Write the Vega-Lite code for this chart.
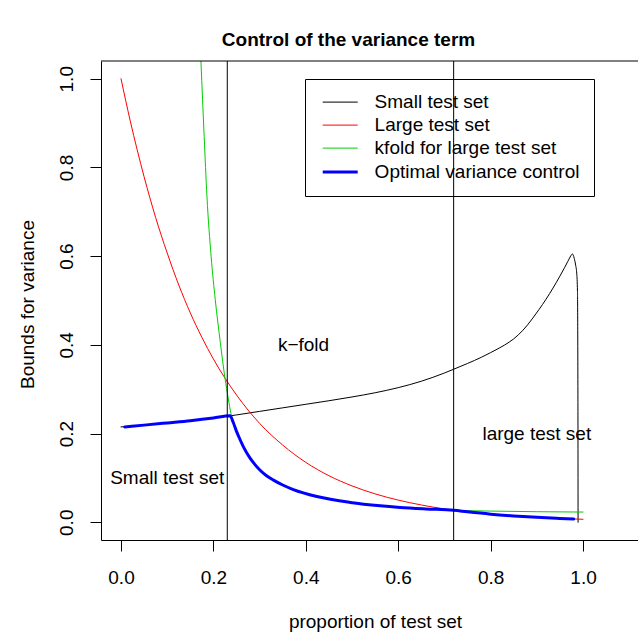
{
  "$schema": "https://vega.github.io/schema/vega-lite/v6.json",
  "width": 537,
  "height": 479,
  "autosize": "none",
  "padding": {"left": 101, "top": 61, "right": 0, "bottom": 93},
  "background": "white",
  "title": {"text": "Control of the variance term", "font": "Liberation Sans", "fontSize": 19, "fontWeight": "bold", "color": "black", "anchor": "middle", "baseline": "alphabetic", "offset": 12, "dx": -21, "dy": 16},
  "config": {
    "view": {"stroke": null},
    "font": "Liberation Sans",
    "axis": {"grid": false, "domainColor": "black", "domainWidth": 1, "tickColor": "black", "tickWidth": 1, "tickSize": 11, "labelColor": "black", "labelFont": "Liberation Sans", "labelFontSize": 19, "titleColor": "black", "titleFont": "Liberation Sans", "titleFontSize": 19, "titleFontWeight": "normal"}
  },
  "datasets": {
    "curves": [
      {"series": "Small test set", "p": 0.0, "v": 0.215},
      {"series": "Small test set", "p": 0.05, "v": 0.219},
      {"series": "Small test set", "p": 0.10, "v": 0.224},
      {"series": "Small test set", "p": 0.15, "v": 0.229},
      {"series": "Small test set", "p": 0.20, "v": 0.235},
      {"series": "Small test set", "p": 0.25, "v": 0.242},
      {"series": "Small test set", "p": 0.30, "v": 0.250},
      {"series": "Small test set", "p": 0.35, "v": 0.258},
      {"series": "Small test set", "p": 0.40, "v": 0.266},
      {"series": "Small test set", "p": 0.45, "v": 0.274},
      {"series": "Small test set", "p": 0.50, "v": 0.2825},
      {"series": "Small test set", "p": 0.55, "v": 0.292},
      {"series": "Small test set", "p": 0.60, "v": 0.3035},
      {"series": "Small test set", "p": 0.65, "v": 0.318},
      {"series": "Small test set", "p": 0.70, "v": 0.3365},
      {"series": "Small test set", "p": 0.72, "v": 0.345},
      {"series": "Small test set", "p": 0.75, "v": 0.358},
      {"series": "Small test set", "p": 0.78, "v": 0.372},
      {"series": "Small test set", "p": 0.80, "v": 0.3825},
      {"series": "Small test set", "p": 0.82, "v": 0.3935},
      {"series": "Small test set", "p": 0.84, "v": 0.406},
      {"series": "Small test set", "p": 0.85, "v": 0.4135},
      {"series": "Small test set", "p": 0.86, "v": 0.4225},
      {"series": "Small test set", "p": 0.87, "v": 0.433},
      {"series": "Small test set", "p": 0.88, "v": 0.445},
      {"series": "Small test set", "p": 0.89, "v": 0.4585},
      {"series": "Small test set", "p": 0.905, "v": 0.480},
      {"series": "Small test set", "p": 0.92, "v": 0.503},
      {"series": "Small test set", "p": 0.935, "v": 0.528},
      {"series": "Small test set", "p": 0.95, "v": 0.555},
      {"series": "Small test set", "p": 0.96, "v": 0.574},
      {"series": "Small test set", "p": 0.967, "v": 0.588},
      {"series": "Small test set", "p": 0.972, "v": 0.598},
      {"series": "Small test set", "p": 0.975, "v": 0.603},
      {"series": "Small test set", "p": 0.977, "v": 0.605},
      {"series": "Small test set", "p": 0.979, "v": 0.602},
      {"series": "Small test set", "p": 0.981, "v": 0.595},
      {"series": "Small test set", "p": 0.984, "v": 0.580},
      {"series": "Small test set", "p": 0.9865, "v": 0.560},
      {"series": "Small test set", "p": 0.988, "v": 0.520},
      {"series": "Small test set", "p": 0.9885, "v": 0.450},
      {"series": "Small test set", "p": 0.989, "v": 0.250},
      {"series": "Small test set", "p": 0.9893, "v": 0.0},
      {"series": "Large test set", "p": 0.0, "v": 1.0},
      {"series": "Large test set", "p": 0.02, "v": 0.905},
      {"series": "Large test set", "p": 0.05, "v": 0.779},
      {"series": "Large test set", "p": 0.075, "v": 0.687},
      {"series": "Large test set", "p": 0.10, "v": 0.607},
      {"series": "Large test set", "p": 0.125, "v": 0.535},
      {"series": "Large test set", "p": 0.15, "v": 0.472},
      {"series": "Large test set", "p": 0.175, "v": 0.417},
      {"series": "Large test set", "p": 0.20, "v": 0.368},
      {"series": "Large test set", "p": 0.25, "v": 0.287},
      {"series": "Large test set", "p": 0.30, "v": 0.223},
      {"series": "Large test set", "p": 0.35, "v": 0.174},
      {"series": "Large test set", "p": 0.40, "v": 0.135},
      {"series": "Large test set", "p": 0.45, "v": 0.105},
      {"series": "Large test set", "p": 0.50, "v": 0.082},
      {"series": "Large test set", "p": 0.55, "v": 0.064},
      {"series": "Large test set", "p": 0.60, "v": 0.050},
      {"series": "Large test set", "p": 0.65, "v": 0.039},
      {"series": "Large test set", "p": 0.70, "v": 0.030},
      {"series": "Large test set", "p": 0.75, "v": 0.0235},
      {"series": "Large test set", "p": 0.80, "v": 0.0183},
      {"series": "Large test set", "p": 0.85, "v": 0.0143},
      {"series": "Large test set", "p": 0.90, "v": 0.0111},
      {"series": "Large test set", "p": 0.95, "v": 0.0087},
      {"series": "Large test set", "p": 1.0, "v": 0.0067},
      {"series": "kfold for large test set", "p": 0.165, "v": 1.25},
      {"series": "kfold for large test set", "p": 0.173, "v": 1.04},
      {"series": "kfold for large test set", "p": 0.18, "v": 0.87},
      {"series": "kfold for large test set", "p": 0.186, "v": 0.735},
      {"series": "kfold for large test set", "p": 0.195, "v": 0.60},
      {"series": "kfold for large test set", "p": 0.204, "v": 0.502},
      {"series": "kfold for large test set", "p": 0.215, "v": 0.405},
      {"series": "kfold for large test set", "p": 0.225, "v": 0.325},
      {"series": "kfold for large test set", "p": 0.232, "v": 0.280},
      {"series": "kfold for large test set", "p": 0.238, "v": 0.245},
      {"series": "kfold for large test set", "p": 0.243, "v": 0.225},
      {"series": "kfold for large test set", "p": 0.25, "v": 0.205},
      {"series": "kfold for large test set", "p": 0.254, "v": 0.195},
      {"series": "kfold for large test set", "p": 0.265, "v": 0.170},
      {"series": "kfold for large test set", "p": 0.279, "v": 0.145},
      {"series": "kfold for large test set", "p": 0.29, "v": 0.130},
      {"series": "kfold for large test set", "p": 0.30, "v": 0.1185},
      {"series": "kfold for large test set", "p": 0.315, "v": 0.105},
      {"series": "kfold for large test set", "p": 0.33, "v": 0.095},
      {"series": "kfold for large test set", "p": 0.35, "v": 0.084},
      {"series": "kfold for large test set", "p": 0.373, "v": 0.0737},
      {"series": "kfold for large test set", "p": 0.424, "v": 0.058},
      {"series": "kfold for large test set", "p": 0.496, "v": 0.0447},
      {"series": "kfold for large test set", "p": 0.561, "v": 0.037},
      {"series": "kfold for large test set", "p": 0.604, "v": 0.0334},
      {"series": "kfold for large test set", "p": 0.66, "v": 0.030},
      {"series": "kfold for large test set", "p": 0.72, "v": 0.0270},
      {"series": "kfold for large test set", "p": 0.80, "v": 0.0252},
      {"series": "kfold for large test set", "p": 0.90, "v": 0.0238},
      {"series": "kfold for large test set", "p": 1.0, "v": 0.0230},
      {"series": "Optimal variance control", "p": 0.008, "v": 0.215},
      {"series": "Optimal variance control", "p": 0.05, "v": 0.219},
      {"series": "Optimal variance control", "p": 0.10, "v": 0.224},
      {"series": "Optimal variance control", "p": 0.15, "v": 0.229},
      {"series": "Optimal variance control", "p": 0.20, "v": 0.235},
      {"series": "Optimal variance control", "p": 0.236, "v": 0.240},
      {"series": "Optimal variance control", "p": 0.243, "v": 0.225},
      {"series": "Optimal variance control", "p": 0.25, "v": 0.205},
      {"series": "Optimal variance control", "p": 0.254, "v": 0.195},
      {"series": "Optimal variance control", "p": 0.265, "v": 0.170},
      {"series": "Optimal variance control", "p": 0.279, "v": 0.145},
      {"series": "Optimal variance control", "p": 0.29, "v": 0.130},
      {"series": "Optimal variance control", "p": 0.30, "v": 0.1185},
      {"series": "Optimal variance control", "p": 0.315, "v": 0.105},
      {"series": "Optimal variance control", "p": 0.33, "v": 0.095},
      {"series": "Optimal variance control", "p": 0.35, "v": 0.084},
      {"series": "Optimal variance control", "p": 0.373, "v": 0.0737},
      {"series": "Optimal variance control", "p": 0.424, "v": 0.058},
      {"series": "Optimal variance control", "p": 0.496, "v": 0.0447},
      {"series": "Optimal variance control", "p": 0.561, "v": 0.037},
      {"series": "Optimal variance control", "p": 0.604, "v": 0.0334},
      {"series": "Optimal variance control", "p": 0.66, "v": 0.030},
      {"series": "Optimal variance control", "p": 0.72, "v": 0.0270},
      {"series": "Optimal variance control", "p": 0.75, "v": 0.0235},
      {"series": "Optimal variance control", "p": 0.80, "v": 0.0183},
      {"series": "Optimal variance control", "p": 0.85, "v": 0.0143},
      {"series": "Optimal variance control", "p": 0.90, "v": 0.0111},
      {"series": "Optimal variance control", "p": 0.95, "v": 0.0087},
      {"series": "Optimal variance control", "p": 0.98, "v": 0.0074}
    ],
    "vlines": [{"p": 0.23}, {"p": 0.72}],
    "notes": [
      {"p": 0.1, "v": 0.1, "label": "Small test set"},
      {"p": 0.395, "v": 0.4, "label": "k−fold"},
      {"p": 0.9, "v": 0.2, "label": "large test set"}
    ]
  },
  "layer": [
    {
      "data": {"name": "curves"},
      "mark": {"type": "line", "interpolate": "monotone", "clip": true, "strokeCap": "round"},
      "encoding": {
        "x": {"field": "p", "type": "quantitative", "scale": {"domain": [-0.0433, 1.119], "nice": false, "zero": false},
              "axis": {"title": "proportion of test set", "values": [0, 0.2, 0.4, 0.6, 0.8, 1.0], "format": ".1f", "labelPadding": 17, "labelBaseline": "top", "titleX": 274, "titleY": 87, "titleBaseline": "alphabetic", "titleAnchor": null}},
        "y": {"field": "v", "type": "quantitative", "scale": {"domain": [-0.04, 1.04], "nice": false, "zero": false},
              "axis": {"title": "Bounds for variance", "values": [0, 0.2, 0.4, 0.6, 0.8, 1.0], "format": ".1f", "labelAngle": 270, "labelAlign": "center", "labelBaseline": "alphabetic", "labelPadding": 18, "titleX": -68, "titleY": 243, "titleAngle": 270, "titleBaseline": "alphabetic", "titleAlign": "center"}},
        "color": {"field": "series", "type": "nominal",
                  "scale": {"domain": ["Small test set", "Large test set", "kfold for large test set", "Optimal variance control"], "range": ["#000000", "#FF0000", "#00CD00", "#0000FF"]},
                  "legend": {"title": null, "orient": "none", "legendX": 204, "legendY": 18, "symbolType": "M-0.73,0H3.27", "symbolSize": 306, "labelFontSize": 19, "labelFont": "Liberation Sans", "labelColor": "black", "labelOffset": 35, "padding": 13.6, "strokeColor": "black", "rowPadding": 3, "labelLimit": 400}},
        "strokeWidth": {"field": "series", "type": "nominal",
                  "scale": {"type": "ordinal", "domain": ["Small test set", "Large test set", "kfold for large test set", "Optimal variance control"], "range": [1, 1, 1, 3]},
                  "legend": {"title": null, "orient": "none", "legendX": 204, "legendY": 18, "symbolType": "M-0.73,0H3.27", "symbolSize": 306, "labelFontSize": 19, "labelFont": "Liberation Sans", "labelColor": "black", "labelOffset": 35, "padding": 13.6, "strokeColor": "black", "rowPadding": 3, "labelLimit": 400}}
      }
    },
    {
      "data": {"name": "vlines"},
      "mark": {"type": "rule", "color": "black", "strokeWidth": 1},
      "encoding": {
        "x": {"field": "p", "type": "quantitative", "scale": {"domain": [-0.0433, 1.119], "nice": false, "zero": false}}
      }
    },
    {
      "data": {"values": [{}]},
      "mark": {"type": "rule", "color": "black", "strokeWidth": 1},
      "encoding": {
        "y": {"datum": 1.04, "type": "quantitative", "scale": {"domain": [-0.04, 1.04], "nice": false, "zero": false}}
      }
    },
    {
      "data": {"name": "notes"},
      "mark": {"type": "text", "font": "Liberation Sans", "fontSize": 19, "color": "black", "align": "center", "baseline": "middle"},
      "encoding": {
        "x": {"field": "p", "type": "quantitative", "scale": {"domain": [-0.0433, 1.119], "nice": false, "zero": false}},
        "y": {"field": "v", "type": "quantitative", "scale": {"domain": [-0.04, 1.04], "nice": false, "zero": false}},
        "text": {"field": "label"}
      }
    }
  ]
}
